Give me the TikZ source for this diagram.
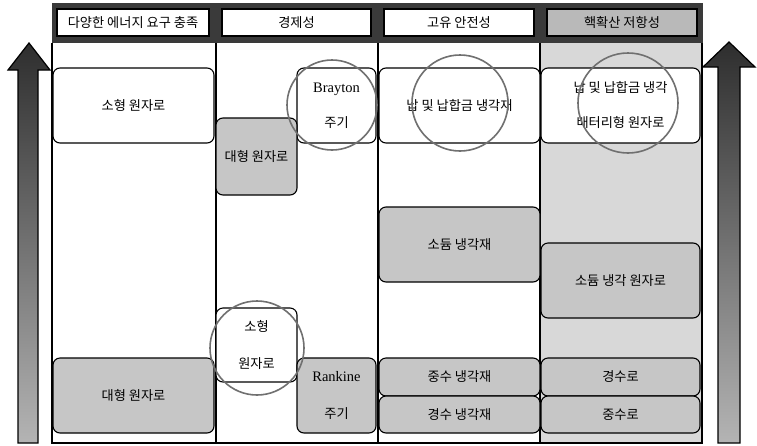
\documentclass[tikz,border=0pt]{standalone}
\usepackage{fontspec}
\setmainfont{Noto Sans CJK KR}
\newfontfamily\latf{Liberation Serif}
\definecolor{boxgray}{HTML}{C6C6C6}
\definecolor{colbg}{HTML}{D8D8D8}
\definecolor{hdrdark}{HTML}{3A3A3A}
\definecolor{hdrgray}{HTML}{B9B9B9}
\definecolor{ringgray}{HTML}{707070}
\definecolor{arrowtop}{HTML}{2E2E2E}
\definecolor{arrowbot}{HTML}{B4B4B4}
\begin{document}
\begin{tikzpicture}[x=1pt,y=-1pt,
  txt/.style={font=\fontsize{13.2}{15}\selectfont},
  box/.style={txt, draw=black, line width=1.1pt, rounded corners=7pt, inner sep=2pt, outer sep=0pt, align=center},
  wbox/.style={box, fill=white},
  gbox/.style={box, fill=boxgray},
  hcell/.style={txt, draw=black, line width=1.4pt, fill=white, inner sep=0pt, outer sep=0pt, minimum height=27pt},
  ring/.style={circle, draw=ringgray, line width=1.6pt, inner sep=0pt, outer sep=0pt},
  colline/.style={draw=black, line width=1.2pt},
  bigarrow/.style={draw=black, line width=1.2pt, top color=arrowtop, bottom color=arrowbot}
]
\useasboundingbox (0,0) rectangle (757,445);
\fill[white] (0,0) rectangle (757,445);

% column 4 background
\fill[colbg] (540,43) rectangle (702,443);

% body grid
\coordinate (t0) at (52,43);  \coordinate (b0) at (52,443);
\coordinate (t1) at (216,43); \coordinate (b1) at (216,443);
\coordinate (t2) at (378,43); \coordinate (b2) at (378,443);
\coordinate (t3) at (540,43); \coordinate (b3) at (540,443);
\coordinate (t4) at (702,43); \coordinate (b4) at (702,443);
\draw[colline] (t0) -- (b0) -- (b4) -- (t4);
\draw[colline] (t1) -- (b1);
\draw[colline] (t2) -- (b2);
\draw[colline] (t3) -- (b3);

% header band
\fill[hdrdark] (52,3) rectangle (703,43);
\node[hcell, minimum width=152pt] (h1) at (133,22.5) {다양한 에너지 요구 충족};
\node[hcell, minimum width=149pt] (h2) at (296.5,22.5) {경제성};
\node[hcell, minimum width=150pt] (h3) at (459,22.5) {고유 안전성};
\node[hcell, minimum width=150pt, fill=hdrgray] (h4) at (622,22.5) {핵확산 저항성};

% arrows
\draw[bigarrow] (18,443) -- (18,70) -- (8,70) -- (29,43) -- (50,70) -- (38,70) -- (38,443) -- cycle;
\draw[bigarrow] (718,443) -- (718,67) -- (703,67) -- (729,42) -- (755,67) -- (740,67) -- (740,443) -- cycle;

% row 1
\node[wbox, minimum width=161pt, minimum height=75pt] (smallA) at (133.5,105.5) {소형 원자로};
\node[wbox, minimum width=79pt, minimum height=75pt] (brayton) at (336.5,105.5) {{\latf\fontsize{14.5}{15}\selectfont Brayton}\\[20pt]주기};
\node[wbox, minimum width=161pt, minimum height=75pt] (lead3) at (459.5,105.5) {납 및 납합금 냉각재};
\node[wbox, minimum width=159pt, minimum height=75pt] (lead4) at (620.5,105.5) {납 및 납합금 냉각\\[20pt]배터리형 원자로};

% middle
\node[gbox, minimum width=81pt, minimum height=77pt] (bigB) at (256.5,156.5) {대형 원자로};
\node[gbox, minimum width=161pt, minimum height=75pt] (sod3) at (459.5,244.5) {소듐 냉각재};
\node[gbox, minimum width=159pt, minimum height=75pt] (sod4) at (620.5,280.5) {소듐 냉각 원자로};
\node[wbox, minimum width=81pt, minimum height=74pt] (smallB) at (256.5,345) {소형\\[22pt]원자로};

% bottom row
\node[gbox, minimum width=161pt, minimum height=75pt] (bigA) at (133.5,395.5) {대형 원자로};
\node[gbox, minimum width=79pt, minimum height=75pt] (rankine) at (336.5,395.5) {{\latf\fontsize{14.5}{15}\selectfont Rankine}\\[22pt]주기};
\node[gbox, minimum width=161pt, minimum height=38pt] (hw3) at (459.5,377) {중수 냉각재};
\node[gbox, minimum width=161pt, minimum height=37pt] (lw3) at (459.5,414.5) {경수 냉각재};
\node[gbox, minimum width=159pt, minimum height=38pt] (lw4) at (620.5,377) {경수로};
\node[gbox, minimum width=159pt, minimum height=37pt] (hw4) at (620.5,414.5) {중수로};

% circles
\node[ring, minimum size=90pt] (ringB) at (332,105) {};
\node[ring, minimum size=96pt] (ringL3) at (460,103) {};
\node[ring, minimum size=100pt] (ringL4) at (628,103) {};
\node[ring, minimum size=94pt] (ringS) at (257,348) {};
\end{tikzpicture}
\end{document}
